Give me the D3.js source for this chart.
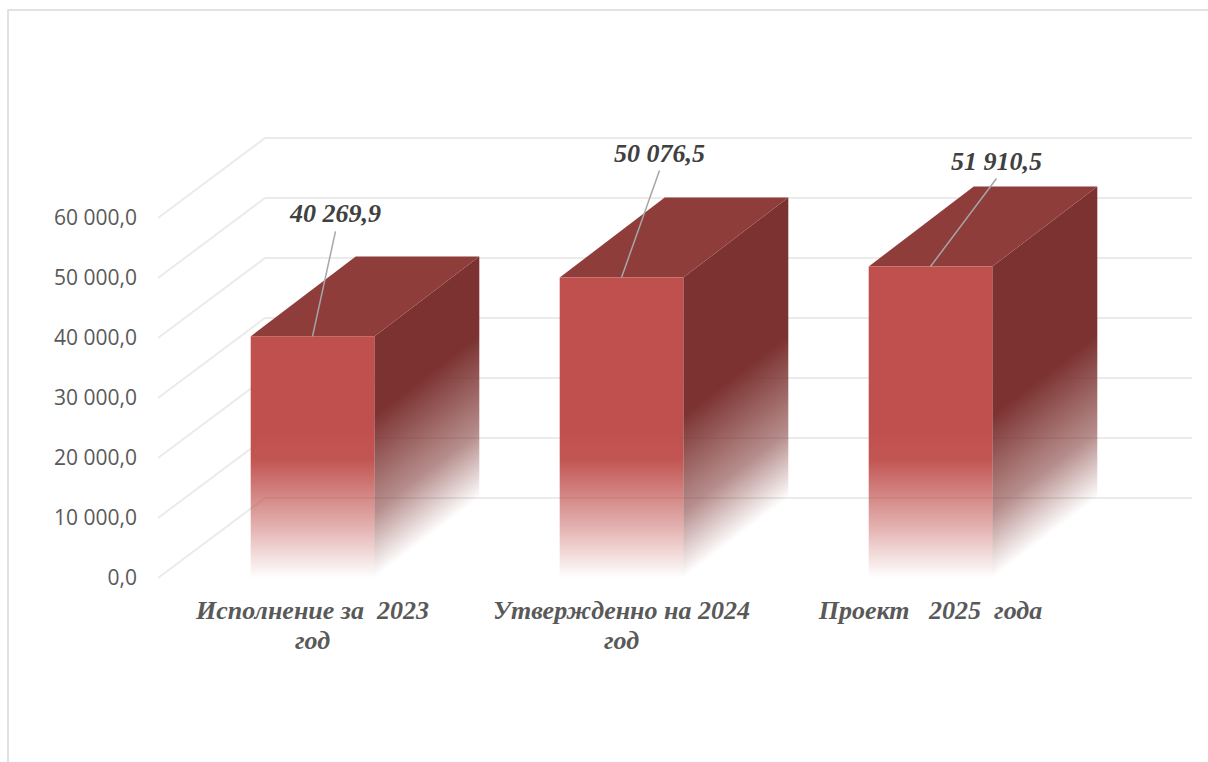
<!DOCTYPE html>
<html>
<head>
<meta charset="utf-8">
<script src="https://cdn.jsdelivr.net/npm/d3@7"></script>
<style>
  body { margin: 0; background: #fff; }
</style>
</head>
<body>
<div id="vis"></div>
<script>
// data
let categories = ["Исполнение за  2023\nгод", "Утвержденно на 2024\nгод", "Проект   2025  года"]
let values = [40269.9, 50076.5, 51910.5]
let yTicks = [0, 10000, 20000, 30000, 40000, 50000, 60000]
// manual label shift (dx, dy) from the top-front centre of each bar
let labelShift = [[23, -114], [38, -116], [66, -97]]

let W = 1208, H = 762
let wallDx = 107, wallDy = -80
let barDx = 105, barDy = -80

let ru = d3.formatLocale({decimal: ",", thousands: " ", grouping: [3], currency: ["", ""]})
let fmt = ru.format(",.1f")

let svg = d3.select("#vis")
    .append('svg')
    .attr('width', W)
    .attr('height', H)

let defs = svg.append('defs')

// chart border
svg.append('rect')
    .attr('x', 8).attr('y', 10)
    .attr('width', W + 20).attr('height', H + 20)
    .attr('fill', 'none')
    .attr('stroke', '#d9d9d9')
    .attr('stroke-width', 1.5)

let y = d3.scaleLinear().domain([0, 60000]).range([578, 218])
let x = d3.scaleBand().domain(categories).range([158, 1085]).padding(0)

// gridlines: side wall diagonals + back wall horizontals
let grid = svg.append('g')
grid.selectAll('.diag')
    .data(yTicks)
    .join('line')
    .attr('x1', 158).attr('y1', d => y(d))
    .attr('x2', 158 + wallDx).attr('y2', d => y(d) + wallDy)
    .attr('stroke', '#ebebeb').attr('stroke-width', 2)
grid.selectAll('.back')
    .data(yTicks)
    .join('line')
    .attr('x1', 158 + wallDx).attr('y1', d => y(d) + wallDy)
    .attr('x2', 1085 + wallDx).attr('y2', d => y(d) + wallDy)
    .attr('stroke', '#ebebeb').attr('stroke-width', 2)

// y axis
let yAxis = svg.append('g')
    .attr('transform', 'translate(158,0)')
    .call(d3.axisLeft(y).tickValues(yTicks).tickSize(0).tickPadding(21).tickFormat(fmt))
yAxis.select('.domain').remove()
yAxis.selectAll('text')
    .attr('fill', '#595959')
    .style('font-family', '"Open Sans", sans-serif')
    .style('font-size', '21px')

// front face gradient (fades to white near the floor)
let gFront = defs.append('linearGradient')
    .attr('id', 'gFront')
    .attr('gradientUnits', 'userSpaceOnUse')
    .attr('x1', 0).attr('y1', y(0)).attr('x2', 0).attr('y2', 430)
gFront.append('stop').attr('offset', 0).attr('stop-color', '#c0504d').attr('stop-opacity', 0)
gFront.append('stop').attr('offset', 0.35).attr('stop-color', '#c0504d').attr('stop-opacity', 0.45)
gFront.append('stop').attr('offset', 0.8).attr('stop-color', '#c0504d').attr('stop-opacity', 0.97)
gFront.append('stop').attr('offset', 1).attr('stop-color', '#c0504d').attr('stop-opacity', 1)

let bw = x.bandwidth() * 0.4
let len = Math.hypot(barDx, barDy)
let nx = barDy / len, ny = -barDx / len   // normal pointing up-left from the floor edge

let bars = svg.append('g')
values.forEach((v, i) => {
    let c = categories[i]
    let x0 = x(c) + (x.bandwidth() - bw) / 2
    let x1 = x0 + bw
    let yt = y(v), yb = y(0)

    // side gradient per bar, perpendicular to the floor edge
    let mx = x1 + barDx / 2, my = yb + barDy / 2
    let gs = defs.append('linearGradient')
        .attr('id', 'gSide' + i)
        .attr('gradientUnits', 'userSpaceOnUse')
        .attr('x1', mx).attr('y1', my)
        .attr('x2', mx + nx * 130).attr('y2', my + ny * 130)
    gs.append('stop').attr('offset', 0).attr('stop-color', '#7b3230').attr('stop-opacity', 0)
    gs.append('stop').attr('offset', 0.4).attr('stop-color', '#7b3230').attr('stop-opacity', 0.55)
    gs.append('stop').attr('offset', 1).attr('stop-color', '#7b3230').attr('stop-opacity', 1)

    // side
    bars.append('path')
        .attr('d', `M${x1},${yt} L${x1 + barDx},${yt + barDy} L${x1 + barDx},${yb + barDy} L${x1},${yb} Z`)
        .attr('fill', `url(#gSide${i})`)
    // top
    bars.append('path')
        .attr('d', `M${x0},${yt} L${x1},${yt} L${x1 + barDx},${yt + barDy} L${x0 + barDx},${yt + barDy} Z`)
        .attr('fill', '#8f3d3b')
    // front
    bars.append('rect')
        .attr('x', x0).attr('y', yt)
        .attr('width', bw).attr('height', yb - yt)
        .attr('fill', 'url(#gFront)')
})

// value labels with leader lines
let lab = svg.append('g')
values.forEach((v, i) => {
    let cx = x(categories[i]) + x.bandwidth() / 2
    let yt = y(v)
    let lx = cx + labelShift[i][0], ly = yt + labelShift[i][1]
    lab.append('line')
        .attr('x1', lx).attr('y1', ly + 9)
        .attr('x2', cx).attr('y2', yt)
        .attr('stroke', '#a6a6a6').attr('stroke-width', 1.5)
    lab.append('text')
        .attr('x', lx).attr('y', ly)
        .attr('text-anchor', 'middle')
        .attr('fill', '#404040')
        .style('font-family', '"Liberation Serif", "Times New Roman", serif')
        .style('font-size', '26px')
        .style('font-weight', 'bold')
        .style('font-style', 'italic')
        .text(fmt(v))
})

// category labels
let cat = svg.append('g')
categories.forEach(c => {
    let t = cat.append('text')
        .attr('x', x(c) + x.bandwidth() / 2)
        .attr('y', 619)
        .attr('text-anchor', 'middle')
        .attr('fill', '#595959')
        .style('white-space', 'pre')
        .style('font-family', '"Liberation Serif", "Times New Roman", serif')
        .style('font-size', '26px')
        .style('font-weight', 'bold')
        .style('font-style', 'italic')
    c.split('\n').forEach((line, k) => {
        t.append('tspan')
            .attr('x', x(c) + x.bandwidth() / 2)
            .attr('dy', k === 0 ? 0 : 30)
            .text(line)
    })
})
</script>
</body>
</html>
